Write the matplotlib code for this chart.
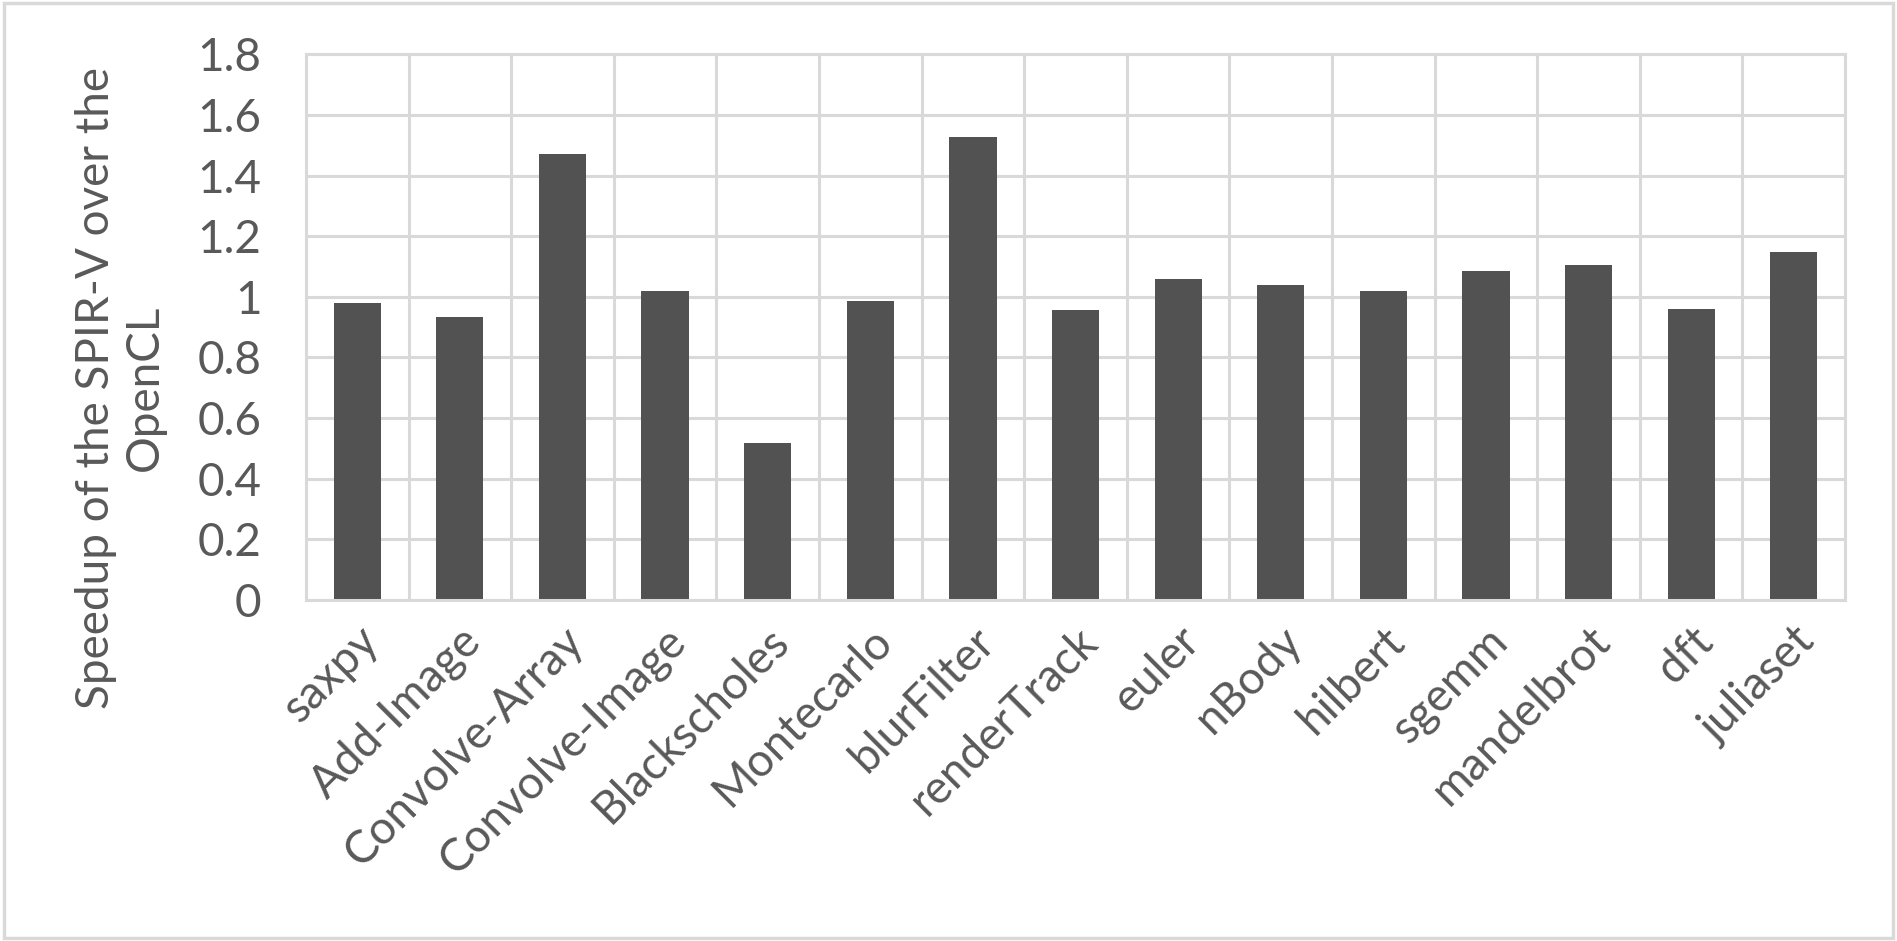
import numpy as np
import matplotlib.pyplot as plt
from matplotlib.patches import Rectangle

# benchmark names and speedup values
benchmarks = ["saxpy", "Add-Image", "Convolve-Array", "Convolve-Image", "Blackscholes",
              "Montecarlo", "blurFilter", "renderTrack", "euler", "nBody",
              "hilbert", "sgemm", "mandelbrot", "dft", "juliaset"]
speedup = [0.98, 0.935, 1.472, 1.018, 0.519,
           0.986, 1.528, 0.958, 1.058, 1.040,
           1.020, 1.085, 1.106, 0.960, 1.148]
yticks = [0, 0.2, 0.4, 0.6, 0.8, 1, 1.2, 1.4, 1.6, 1.8]
ytick_labels = ["0", "0.2", "0.4", "0.6", "0.8", "1", "1.2", "1.4", "1.6", "1.8"]

text_col = "#595959"
grid_col = "#d9d9d9"
bar_col = "#525252"
fs = 33

plt.rcParams['font.family'] = ['Lato', 'DejaVu Sans']

fig = plt.figure(figsize=(18.97, 9.41), dpi=100)
ax = fig.add_axes([0.1613, 0.3624, 0.8113, 0.5798])

x = np.arange(len(benchmarks))
ax.bar(x, speedup, width=0.46, color=bar_col, zorder=2)

ax.set_xlim(-0.5, len(benchmarks) - 0.5)
ax.set_ylim(0, 1.8)
ax.set_yticks(yticks)
ax.set_yticklabels(ytick_labels)
ax.set_xticks(x)
ax.set_xticklabels(benchmarks, rotation=45, ha="right", rotation_mode="anchor")
ax.set_xticks(np.arange(len(benchmarks) + 1) - 0.5, minor=True)

# gridlines: horizontal at y ticks, vertical at category boundaries
ax.yaxis.grid(True, color=grid_col, lw=2.2, zorder=1)
ax.xaxis.grid(True, which="minor", color=grid_col, lw=2.2, zorder=1)
ax.set_axisbelow(True)

ax.tick_params(axis="y", length=0, pad=32, labelsize=fs, labelcolor=text_col)
ax.tick_params(axis="x", which="major", direction="in", length=8, width=2,
               color=grid_col, pad=14, labelsize=fs, labelcolor=text_col)
ax.tick_params(axis="x", which="minor", length=0)
for t in ax.xaxis.get_major_ticks():
    t.tick1line.set_zorder(5)

for s in ax.spines.values():
    s.set_color(grid_col)
    s.set_linewidth(2.2)

ax.set_ylabel("Speedup of the SPIR-V over the\nOpenCL", fontsize=fs, color=text_col,
              linespacing=1.2)
ax.yaxis.set_label_coords(-0.091, 0.388)

# outer chart border
fig.patches.append(Rectangle((0.002, 0.003), 0.996, 0.994, transform=fig.transFigure,
                             fill=False, edgecolor=grid_col, lw=2.5))

fig.savefig("out.png", dpi=100)
